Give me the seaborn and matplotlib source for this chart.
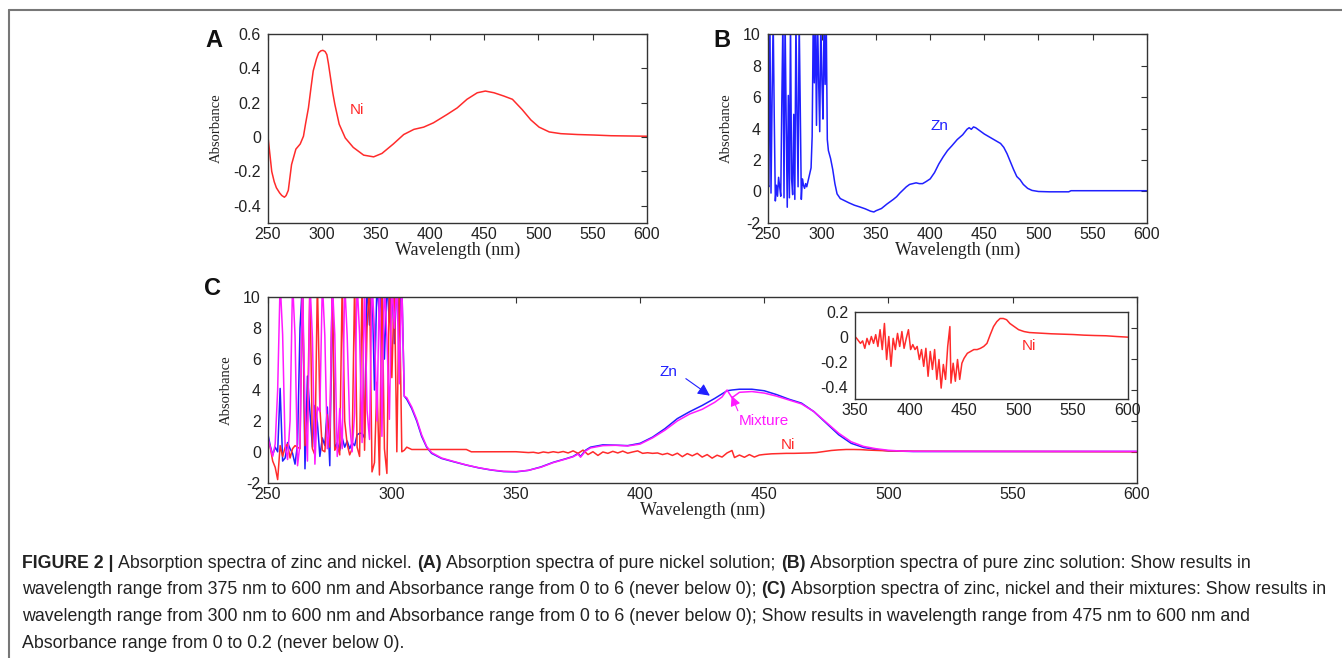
import numpy as np
import matplotlib
matplotlib.use("Agg")
import matplotlib.pyplot as plt
import seaborn as sns
from matplotlib.lines import Line2D
from matplotlib import font_manager

# ---- data ----
# (A) pure nickel
a_wl = [250, 252, 253.7, 256, 258, 261, 263, 265.4, 267, 269, 272, 276, 280, 283, 285,
        287.6, 290, 292, 295, 297, 299, 301, 303, 304.6, 306, 308, 310, 312, 316, 321.6,
        329, 338.6, 347.8, 355.5, 366, 375.6, 385, 394, 403, 415.7, 425, 434, 443.5, 451,
        459, 468, 476, 485, 493, 500.6, 510, 520.7, 536, 551.5, 567, 600]
a_ni = [0.015, -0.1, -0.2, -0.26, -0.295, -0.325, -0.34, -0.35, -0.34, -0.31, -0.16, -0.07,
        -0.04, 0.005, 0.08, 0.17, 0.29, 0.385, 0.455, 0.49, 0.502, 0.505, 0.498, 0.48, 0.43,
        0.345, 0.26, 0.19, 0.075, -0.005, -0.06, -0.105, -0.115, -0.095, -0.04, 0.015, 0.045,
        0.058, 0.083, 0.132, 0.17, 0.22, 0.258, 0.268, 0.258, 0.239, 0.22, 0.16, 0.10, 0.058,
        0.03, 0.02, 0.015, 0.012, 0.008, 0.005]

# (B) pure zinc: noisy part 250-305 nm (1 nm steps), then smooth part
noisy_wl = list(range(250, 306))
b_zn_noisy = [0.5, 0.3, 11, -0.1, 5.9, 11, 4.7, -0.6, 0.4, -0.3, 0.9, 0.3, -0.3, 5.8, 11, -0.4,
              11, 4.6, -1.0, 6.1, -0.4, 11, 0.8, -0.2, 4.9, -0.5, 11, 5.0, 0.3, 11, 5.4, -0.5,
              0.8, 0.4, 0.2, 0.5, 0.3, 0.6, 0.9, 1.2, 1.5, 3.5, 11, 6.9, 11, 4.2, 11, 7.0, 3.8,
              11, 7.1, 4.6, 11, 6.8, 11, 3.3]
b_wl = [306, 308, 310, 312, 314, 317, 320, 325, 330, 335, 340, 345, 348, 350, 355, 360, 363,
        366, 369, 372, 375, 378, 381, 384, 387, 390, 393, 396, 400, 404, 408, 412, 416, 420,
        425, 430, 434, 436, 438, 440, 442, 445, 450, 455, 460, 465, 468, 471, 474, 477, 480,
        483, 486, 490, 494, 500, 510, 528, 530, 600]
b_zn = [2.6, 2.1, 1.4, 0.5, -0.15, -0.45, -0.55, -0.72, -0.87, -0.98, -1.1, -1.25, -1.3,
        -1.22, -1.08, -0.8, -0.65, -0.5, -0.33, -0.1, 0.1, 0.3, 0.45, 0.5, 0.55, 0.5, 0.5,
        0.62, 0.8, 1.2, 1.75, 2.2, 2.6, 2.9, 3.3, 3.6, 3.95, 4.05, 3.95, 4.1, 4.05, 3.9, 3.65,
        3.45, 3.25, 3.05, 2.8, 2.4, 1.9, 1.4, 0.95, 0.75, 0.45, 0.2, 0.07, 0.0, -0.02, -0.02,
        0.05, 0.05]

# (C) zinc, nickel and mixture
c_zn_noisy = [1.2, 0.4, -0.2, 0.3, 0.0, 4.1, -0.6, -0.4, 0.6, 0.2, -0.1, -0.8, 0.5, 8.0, 11,
              -1.1, 4.9, 2.6, 0.3, 3.0, 1.9, -0.3, 0.9, 0.4, 2.9, -0.9, 11, 0.2, 0.6, 0.1, 0.9,
              0.3, 0.7, 0.2, 0.6, 0.4, 1.1, 1.2, 1.2, 0.9, 11, 8.2, 11, 4.0, 11, 8.7, 11, 6.0,
              11, 8.4, 11, 7.0, 11, 8.3, 11, 3.6]
c_mix_noisy = [1.0, 0.3, -0.3, 0.5, 4.0, 11, 7.6, 0.4, -0.5, 2.0, 11, 7.5, -0.9, 0.5, 11, 3.0,
               -0.6, 11, 7.4, -0.8, 2.9, 2.6, 11, 7.5, 0.2, 1.6, 11, 7.6, -0.3, 2.8, 0.2, 11,
               7.5, 1.8, 0.0, 2.5, 11, 7.6, 0.6, 11, 2.7, 0.8, 11, 7.9, 2.0, 11, 1.0, 11, 7.4,
               2.1, 11, 8.0, 11, 4.4, 11, 3.6]
c_ni_noisy = [0.8, 0.3, -0.6, -1.0, -1.8, 0.4, -0.3, 0.3, 0.5, -0.4, 0.2, 0.4, 0.3, 0.2, 11,
              0.4, 2.0, 11, 0.2, -0.2, 11, 2.9, 0.1, 0.0, 2.4, 0.3, 11, 0.1, 0.4, -0.2, 11, 2.0,
              0.5, -0.2, 0.2, 11, 0.3, -0.3, 11, 0.1, 8.0, 11, -1.3, -0.7, 4.5, -1.5, 11, 0.2,
              -1.4, 11, 4.8, 11, 0.0, 11, 0.0, 0.1]
c_wl = [306, 308, 310, 312, 314, 316, 320, 325, 330, 335, 340, 345, 350, 355, 360, 365, 370,
        373, 375, 376, 378, 380, 385, 390, 395, 400, 405, 410, 415, 420, 425, 430, 433, 435,
        437, 440, 445, 450, 455, 460, 465, 470, 475, 480, 485, 490, 495, 500, 505, 510, 550, 600]
c_zn = [3.4, 2.8, 2.0, 1.0, 0.3, -0.1, -0.43, -0.65, -0.86, -1.04, -1.18, -1.28, -1.30, -1.2,
        -0.98, -0.68, -0.45, -0.3, -0.1, -0.3, 0.1, 0.3, 0.45, 0.43, 0.4, 0.55, 0.95, 1.5,
        2.15, 2.6, 3.0, 3.45, 3.75, 3.95, 4.0, 4.05, 4.05, 3.95, 3.7, 3.4, 3.15, 2.6, 1.85,
        1.1, 0.55, 0.28, 0.15, 0.06, 0.04, 0.02, 0.02, 0.02]
c_mix = [3.5, 2.9, 2.1, 1.1, 0.35, -0.05, -0.4, -0.63, -0.85, -1.03, -1.17, -1.26, -1.28,
         -1.2, -1.0, -0.7, -0.47, -0.32, -0.15, -0.35, 0.05, 0.25, 0.4, 0.42, 0.38, 0.5, 0.9,
         1.4, 2.0, 2.45, 2.75, 3.2, 3.55, 4.0, 3.5, 3.85, 3.9, 3.8, 3.6, 3.35, 3.1, 2.6, 1.9,
         1.2, 0.65, 0.35, 0.2, 0.1, 0.05, 0.03, 0.03, 0.03]
c_ni_mid_wl = [306, 308, 330, 332, 345]
c_ni_mid = [0.3, 0.15, 0.15, 0.0, 0.0]

# inset: Ni 350-600 nm (also the Ni tail of panel C)
inset_wl = [350, 352, 355, 357, 359, 361, 363, 365, 367, 369, 371, 373, 375, 377, 379, 381,
            383, 385, 387, 389, 391, 393, 395, 397, 399, 401, 403, 405, 407, 409, 411, 413,
            415, 417, 419, 421, 423, 425, 427, 429, 431, 433, 435, 437, 438, 440, 442, 444,
            446, 448, 450, 453, 456, 459, 462, 465, 468, 471, 474, 477, 480, 483, 486, 489,
            492, 496, 500, 505, 510, 520, 530, 540, 550, 560, 570, 580, 590, 600]
inset_ni = [0.005, -0.015, -0.05, -0.03, -0.09, -0.01, -0.06, 0.005, -0.05, 0.02, -0.075,
            0.06, -0.1, 0.11, -0.18, 0.005, -0.235, -0.01, -0.1, 0.03, -0.075, 0.045, -0.09,
            -0.01, 0.06, -0.1, -0.06, -0.1, -0.075, -0.18, -0.1, -0.235, -0.09, -0.315,
            -0.115, -0.26, -0.1, -0.34, -0.18, -0.41, -0.22, -0.34, -0.075, 0.085, -0.37,
            -0.21, -0.355, -0.18, -0.34, -0.21, -0.17, -0.13, -0.115, -0.1, -0.1, -0.09,
            -0.075, -0.05, 0.02, 0.085, 0.125, 0.15, 0.15, 0.14, 0.11, 0.085, 0.06, 0.045,
            0.037, 0.032, 0.027, 0.024, 0.021, 0.016, 0.013, 0.011, 0.005, 0.0]

wl_ticks = [250, 300, 350, 400, 450, 500, 550, 600]
inset_xticks = [350, 400, 450, 500, 550, 600]

RED = "#ff2b2b"
BLUE = "#2020ff"
MAGENTA = "#ff1aff"

sns.set_style("white")
plt.rcParams["font.family"] = ["Liberation Sans", "DejaVu Sans"]
plt.rcParams["axes.unicode_minus"] = False

fig = plt.figure(figsize=(13.42, 6.58), dpi=100)


def style_axes(ax, xticks, yticks, xlim, ylim):
    ax.set_xlim(*xlim)
    ax.set_ylim(*ylim)
    ax.set_xticks(xticks, labels=[f"{t:g}" for t in xticks])
    ax.set_yticks(yticks, labels=[f"{t:g}" for t in yticks])
    ax.tick_params(direction="in", top=True, right=True, length=4, width=0.8,
                   color="#333", labelcolor="#222", labelsize=11.5)
    ax.tick_params(axis="x", pad=3)
    ax.tick_params(axis="y", pad=5)
    for s in ax.spines.values():
        s.set_color("#333")
        s.set_linewidth(1.0)


def labels(ax):
    ax.set_xlabel("Wavelength (nm)", family="Liberation Serif", fontsize=13, labelpad=0, color="#222")
    ax.set_ylabel("Absorbance", family="Liberation Serif", fontsize=10.5, labelpad=7, color="#222")


def line(ax, x, y, color, lw=1.0):
    sns.lineplot(x=np.asarray(x, float), y=np.asarray(y, float), ax=ax, color=color,
                 linewidth=lw, estimator=None, sort=False)


# ---- (A) ----
axA = fig.add_axes([0.1995, 0.6611, 0.2824, 0.2872])
line(axA, a_wl, a_ni, RED, 1.1)
style_axes(axA, wl_ticks, [-0.4, -0.2, 0, 0.2, 0.4, 0.6], (250, 600), (-0.5, 0.6))
labels(axA)
axA.text(332, 0.16, "Ni", color=RED, fontsize=11, ha="center", va="center")

# ---- (B) ----
axB = fig.add_axes([0.5721, 0.6611, 0.2824, 0.2872])
line(axB, noisy_wl + b_wl, b_zn_noisy + b_zn, BLUE, 1.1)
style_axes(axB, wl_ticks, [-2, 0, 2, 4, 6, 8, 10], (250, 600), (-2, 10))
labels(axB)
axB.text(409, 4.16, "Zn", color=BLUE, fontsize=11, ha="center", va="center")

# ---- (C) ----
axC = fig.add_axes([0.1995, 0.2664, 0.6475, 0.2818])
line(axC, noisy_wl + c_wl, c_zn_noisy + c_zn, BLUE, 1.1)
line(axC, noisy_wl + c_ni_mid_wl + inset_wl, c_ni_noisy + c_ni_mid + inset_ni, RED, 1.1)
line(axC, noisy_wl + c_wl, c_mix_noisy + c_mix, MAGENTA, 1.1)
style_axes(axC, wl_ticks, [-2, 0, 2, 4, 6, 8, 10], (250, 600), (-2, 10))
labels(axC)
axC.text(411.4, 5.17, "Zn", color=BLUE, fontsize=11, ha="center", va="center")
axC.annotate("", xy=(429, 3.53), xytext=(417.5, 4.84),
             arrowprops=dict(arrowstyle="-|>", color=BLUE, lw=0.8, mutation_scale=18))
axC.text(449.7, 1.98, "Mixture", color=MAGENTA, fontsize=11, ha="center", va="center")
axC.annotate("", xy=(436.4, 3.79), xytext=(439.8, 2.49),
             arrowprops=dict(arrowstyle="-|>", color=MAGENTA, lw=0.8, mutation_scale=15))
axC.text(459.5, 0.44, "Ni", color=RED, fontsize=11, ha="center", va="center")

# inset
axI = fig.add_axes([0.6371, 0.3932, 0.2032, 0.1322])
line(axI, inset_wl, inset_ni, RED, 1.1)
style_axes(axI, inset_xticks, [-0.4, -0.2, 0, 0.2], (350, 600), (-0.5, 0.2))
axI.tick_params(top=False, right=False)
axI.text(509.5, -0.075, "Ni", color=RED, fontsize=11, ha="center", va="center")

# panel letters
for lx, ly, s in [(0.1595, 0.9377, "A"), (0.538, 0.9377, "B"), (0.1587, 0.5608, "C")]:
    fig.text(lx, ly, s, fontsize=17, fontweight="bold", ha="center", va="center", color="#111")

# page border (top and left)
fig.add_artist(Line2D([9 / 1342, 1.0], [1 - 10 / 658, 1 - 10 / 658], color="#777", lw=1.5))
fig.add_artist(Line2D([9 / 1342, 9 / 1342], [0.0, 1 - 10 / 658], color="#777", lw=1.5))

# ---- caption with bold runs ----
try:
    font_manager.findfont("Liberation Sans Narrow", fallback_to_default=False)
    cap_family, cap_size = ["Liberation Sans Narrow", "Liberation Sans"], 14
except ValueError:
    cap_family, cap_size = ["Liberation Sans"], 12.8

caption = [
    [("FIGURE 2 |", True), ("Absorption spectra of zinc and nickel.", False), ("(A)", True),
     ("Absorption spectra of pure nickel solution;", False), ("(B)", True),
     ("Absorption spectra of pure zinc solution: Show results in", False)],
    [("wavelength range from 375 nm to 600 nm and Absorbance range from 0 to 6 (never below 0);", False),
     ("(C)", True), ("Absorption spectra of zinc, nickel and their mixtures: Show results in", False)],
    [("wavelength range from 300 nm to 600 nm and Absorbance range from 0 to 6 (never below 0); "
      "Show results in wavelength range from 475 nm to 600 nm and", False)],
    [("Absorbance range from 0 to 0.2 (never below 0).", False)],
]

renderer = fig.canvas.get_renderer()
t1 = fig.text(0, 0, "a a", fontsize=cap_size, family=cap_family)
t2 = fig.text(0, 0, "aa", fontsize=cap_size, family=cap_family)
space = (t1.get_window_extent(renderer).width - t2.get_window_extent(renderer).width) / fig.bbox.width
t1.remove()
t2.remove()

for i, runs in enumerate(caption):
    x = 22 / 1342
    y = 1 - (568 + i * 26.5) / 658
    for text, bold in runs:
        t = fig.text(x, y, text, fontsize=cap_size, family=cap_family, color="#222",
                     fontweight="bold" if bold else "normal", ha="left", va="baseline")
        x += t.get_window_extent(renderer).width / fig.bbox.width + space

fig.savefig("out.png", dpi=100)
